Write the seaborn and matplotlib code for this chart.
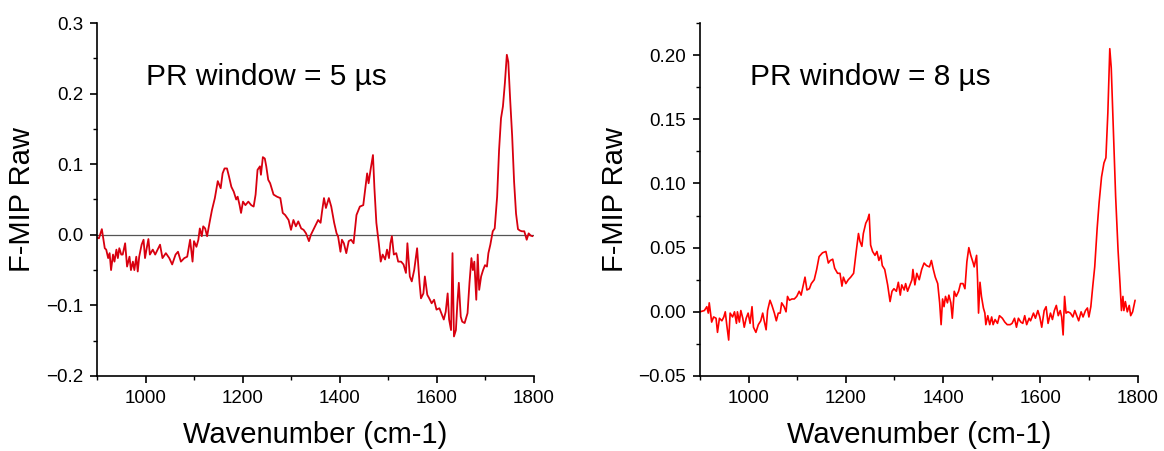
import matplotlib
matplotlib.use("Agg")
import matplotlib.pyplot as plt
import seaborn as sns
import pandas as pd
from matplotlib.ticker import MultipleLocator

# ---------------- data ----------------
wn_5us = [900, 904, 910, 916, 919, 923, 926, 929, 933, 936, 940, 943, 946, 950, 953, 958, 962, 967,
          970, 974, 977, 981, 984, 987, 992, 996, 999, 1003, 1006, 1009, 1015, 1020, 1025, 1030,
          1035, 1042, 1049, 1055, 1062, 1067, 1073, 1080, 1086, 1092, 1097, 1100, 1105, 1109, 1112,
          1116, 1119, 1123, 1127, 1132, 1137, 1143, 1149, 1155, 1159, 1163, 1168, 1172, 1177, 1182,
          1187, 1190, 1194, 1197, 1201, 1206, 1212, 1218, 1223, 1227, 1231, 1236, 1238, 1242, 1246,
          1249, 1253, 1257, 1264, 1271, 1278, 1283, 1288, 1295, 1300, 1305, 1310, 1315, 1321, 1326,
          1331, 1337, 1341, 1346, 1351, 1356, 1361, 1364, 1368, 1372, 1378, 1383, 1389, 1394, 1397,
          1402, 1405, 1409, 1414, 1419, 1424, 1429, 1435, 1442, 1449, 1453, 1457, 1460, 1464, 1469,
          1472, 1476, 1481, 1485, 1489, 1494, 1498, 1502, 1505, 1508, 1512, 1517, 1521, 1527, 1532,
          1537, 1540, 1545, 1549, 1554, 1560, 1565, 1568, 1573, 1576, 1581, 1585, 1590, 1595, 1600,
          1606, 1611, 1615, 1619, 1623, 1626, 1630, 1633, 1636, 1640, 1643, 1646, 1650, 1653, 1658,
          1664, 1668, 1672, 1675, 1678, 1682, 1685, 1688, 1692, 1696, 1700, 1704, 1707, 1711, 1716,
          1720, 1725, 1729, 1733, 1737, 1741, 1745, 1748, 1752, 1756, 1760, 1764, 1768, 1772, 1776,
          1781, 1786, 1790, 1794, 1798]
raw_5us = [-0.004, -0.005, 0.008, -0.019, -0.021, -0.033, -0.026, -0.050, -0.028, -0.038, -0.021,
           -0.033, -0.019, -0.028, -0.028, -0.012, -0.045, -0.031, -0.050, -0.038, -0.050, -0.031,
           -0.052, -0.031, -0.014, -0.007, -0.033, -0.017, -0.006, -0.028, -0.021, -0.028, -0.021,
           -0.014, -0.033, -0.026, -0.033, -0.042, -0.028, -0.024, -0.038, -0.033, -0.031, -0.007,
           -0.038, -0.009, -0.017, -0.007, 0.009, -0.002, 0.012, 0.009, -0.002, 0.017, 0.035, 0.052,
           0.076, 0.066, 0.087, 0.094, 0.094, 0.083, 0.068, 0.061, 0.050, 0.054, 0.042, 0.031, 0.047,
           0.042, 0.047, 0.042, 0.040, 0.057, 0.092, 0.097, 0.085, 0.110, 0.108, 0.097, 0.078, 0.073,
           0.057, 0.054, 0.052, 0.031, 0.028, 0.021, 0.007, 0.021, 0.012, 0.019, 0.009, 0.007, 0.002,
           -0.009, 0.000, 0.007, 0.014, 0.021, 0.017, 0.033, 0.052, 0.038, 0.052, 0.040, 0.017, 0.002,
           -0.002, -0.024, -0.007, -0.012, -0.026, -0.009, -0.007, -0.012, 0.028, 0.040, 0.042, 0.064,
           0.087, 0.073, 0.092, 0.113, 0.066, 0.017, -0.012, -0.038, -0.028, -0.035, -0.021, -0.033,
           -0.012, -0.002, -0.028, -0.026, -0.038, -0.038, -0.042, -0.054, -0.012, -0.059, -0.066,
           -0.050, -0.019, -0.068, -0.090, -0.083, -0.059, -0.085, -0.090, -0.097, -0.092, -0.106,
           -0.104, -0.113, -0.120, -0.109, -0.083, -0.120, -0.135, -0.026, -0.144, -0.135, -0.097,
           -0.068, -0.116, -0.123, -0.125, -0.111, -0.068, -0.033, -0.050, -0.038, -0.092, -0.028,
           -0.078, -0.059, -0.050, -0.043, -0.045, -0.026, -0.014, 0.005, 0.009, 0.054, 0.120, 0.165,
           0.182, 0.215, 0.255, 0.245, 0.190, 0.140, 0.075, 0.030, 0.008, 0.006, 0.005, 0.005, -0.007,
           0.002, -0.001, -0.002]

wn_8us = [900, 909, 914, 917, 919, 924, 928, 933, 936, 940, 945, 949, 952, 955, 959, 962, 967, 971,
          975, 977, 981, 984, 988, 991, 995, 999, 1003, 1007, 1010, 1015, 1020, 1025, 1029, 1032,
          1036, 1039, 1044, 1048, 1053, 1057, 1061, 1065, 1068, 1073, 1077, 1080, 1084, 1089, 1094,
          1099, 1104, 1108, 1112, 1116, 1120, 1125, 1129, 1135, 1140, 1145, 1152, 1159, 1164, 1168,
          1173, 1177, 1183, 1188, 1192, 1195, 1200, 1205, 1210, 1216, 1221, 1226, 1229, 1233, 1236,
          1241, 1245, 1248, 1251, 1255, 1260, 1264, 1268, 1272, 1275, 1280, 1286, 1291, 1295, 1299,
          1304, 1308, 1312, 1315, 1320, 1323, 1327, 1331, 1336, 1338, 1342, 1346, 1351, 1356, 1361,
          1366, 1372, 1376, 1380, 1384, 1389, 1393, 1396, 1399, 1402, 1405, 1409, 1412, 1416, 1419,
          1423, 1427, 1432, 1436, 1441, 1445, 1449, 1453, 1457, 1462, 1464, 1469, 1471, 1473, 1476,
          1479, 1483, 1486, 1488, 1492, 1496, 1500, 1503, 1507, 1512, 1516, 1522, 1527, 1532, 1538,
          1542, 1547, 1551, 1555, 1560, 1564, 1568, 1572, 1577, 1580, 1586, 1590, 1595, 1599, 1603,
          1608, 1612, 1616, 1621, 1625, 1629, 1633, 1637, 1641, 1644, 1647, 1650, 1653, 1657, 1662,
          1667, 1671, 1676, 1679, 1684, 1688, 1693, 1697, 1700, 1704, 1708, 1712, 1717, 1721, 1726,
          1731, 1735, 1739, 1743, 1746, 1750, 1755, 1760, 1764, 1767, 1770, 1772, 1775, 1779, 1783,
          1786, 1790, 1795]
raw_8us = [0.000, 0.001, 0.004, -0.001, 0.007, -0.008, -0.004, -0.005, -0.016, -0.005, -0.007, -0.004,
           0.000, -0.010, -0.022, -0.001, -0.004, 0.000, -0.009, 0.000, -0.008, 0.001, -0.005, -0.012,
           -0.005, -0.001, -0.009, 0.004, -0.012, -0.016, -0.010, -0.007, -0.001, -0.007, -0.014,
           0.001, 0.009, 0.005, -0.001, -0.007, -0.001, -0.001, 0.007, 0.004, 0.000, 0.012, 0.009,
           0.010, 0.010, 0.012, 0.016, 0.013, 0.020, 0.027, 0.017, 0.018, 0.022, 0.025, 0.033, 0.043,
           0.046, 0.047, 0.038, 0.040, 0.041, 0.034, 0.030, 0.030, 0.020, 0.027, 0.022, 0.025, 0.027,
           0.030, 0.046, 0.061, 0.055, 0.051, 0.061, 0.069, 0.072, 0.076, 0.052, 0.047, 0.044, 0.047,
           0.040, 0.044, 0.036, 0.033, 0.021, 0.008, 0.016, 0.018, 0.016, 0.023, 0.013, 0.021, 0.017,
           0.022, 0.016, 0.020, 0.025, 0.033, 0.021, 0.030, 0.025, 0.033, 0.038, 0.036, 0.035, 0.040,
           0.033, 0.027, 0.022, 0.007, -0.010, 0.010, 0.004, 0.012, 0.007, 0.013, 0.007, -0.005, 0.016,
           0.012, 0.016, 0.022, 0.022, 0.018, 0.039, 0.050, 0.044, 0.038, 0.035, 0.044, 0.025, -0.001,
           0.023, 0.012, 0.003, -0.001, -0.010, -0.003, -0.010, -0.004, -0.010, -0.006, -0.009,
           -0.003, -0.005, -0.008, -0.010, -0.010, -0.009, -0.005, -0.012, -0.005, -0.008, -0.009,
           -0.003, -0.010, -0.005, -0.007, -0.001, -0.005, 0.001, -0.004, -0.012, 0.001, 0.004,
           -0.009, -0.001, -0.006, 0.001, 0.005, -0.003, 0.001, -0.004, -0.018, 0.012, -0.001, 0.000,
           -0.001, -0.004, 0.001, -0.004, -0.007, 0.000, -0.004, 0.001, 0.003, -0.004, 0.004, 0.020,
           0.035, 0.065, 0.085, 0.105, 0.116, 0.120, 0.155, 0.205, 0.190, 0.145, 0.090, 0.048, 0.022,
           0.001, 0.012, 0.001, 0.008, 0.000, 0.005, -0.003, 0.000, 0.009]

x_ticks = [1000, 1200, 1400, 1600, 1800]
left_yticks = [-0.2, -0.1, 0.0, 0.1, 0.2, 0.3]
right_yticks = [-0.05, 0.00, 0.05, 0.10, 0.15, 0.20]
x_label = "Wavenumber (cm-1)"
y_label = "F-MIP Raw"
titles = ["PR window = 5 µs", "PR window = 8 µs"]

# ---------------- styling ----------------
sns.set_theme(style="ticks")
plt.rcParams["font.family"] = ["Liberation Sans", "DejaVu Sans"]
plt.rcParams["axes.unicode_minus"] = True

fig = plt.figure(figsize=(11.64, 4.51), dpi=100)
ax1 = fig.add_axes([97 / 1164, 75 / 451, 436.5 / 1164, 353 / 451])
ax2 = fig.add_axes([700 / 1164, 75 / 451, 437.5 / 1164, 353 / 451])

df5 = pd.DataFrame({"wn": wn_5us, "raw": raw_5us})
df8 = pd.DataFrame({"wn": wn_8us, "raw": raw_8us})

ax1.axhline(0, color="#555555", lw=0.9, zorder=1)
sns.lineplot(data=df5, x="wn", y="raw", ax=ax1, color="#d8000f", lw=1.3, zorder=2)
sns.lineplot(data=df8, x="wn", y="raw", ax=ax2, color="#ff0000", lw=1.2, zorder=2)

ax1.set_ylim(-0.2, 0.3)
ax2.set_ylim(-0.05, 0.225)
ax1.set_yticks(left_yticks)
ax1.set_yticklabels([f"{v:.1f}".replace("-", "\u2212") for v in left_yticks])
ax2.set_yticks(right_yticks)
ax2.set_yticklabels([f"{v:.2f}".replace("-", "\u2212") for v in right_yticks])
ax1.yaxis.set_minor_locator(MultipleLocator(0.05))
ax2.yaxis.set_minor_locator(MultipleLocator(0.025))

for ax, title, ty in [(ax1, titles[0], 0.2125), (ax2, titles[1], 0.1766)]:
    ax.set_xlim(900, 1800)
    ax.set_xticks(x_ticks)
    ax.xaxis.set_minor_locator(MultipleLocator(100))
    ax.set_xlabel(x_label, fontsize=21, labelpad=10, color="black")
    ax.set_ylabel(y_label, fontsize=21, labelpad=7, color="black")
    ax.tick_params(axis="both", which="major", direction="out", length=5, width=1.2,
                   labelsize=13.5, pad=5, colors="black")
    ax.tick_params(axis="both", which="minor", direction="out", length=3, width=1.0,
                   colors="black")
    for s in ["top", "right"]:
        ax.spines[s].set_visible(False)
    for s in ["left", "bottom"]:
        ax.spines[s].set_linewidth(1.2)
        ax.spines[s].set_color("black")
    ax.text(1002, ty, title, fontsize=21.5, ha="left", va="baseline", color="black")

fig.savefig("out.png", dpi=100)
